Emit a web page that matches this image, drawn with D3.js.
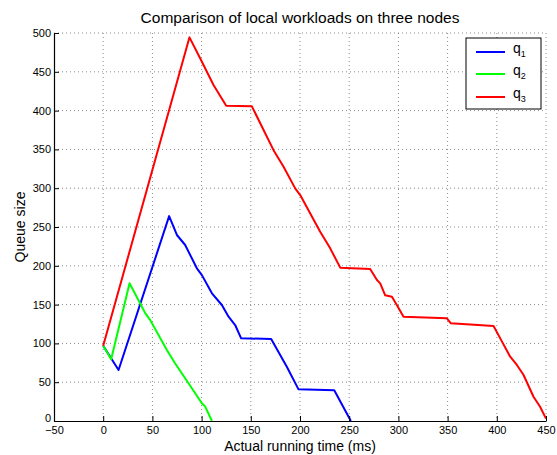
<!DOCTYPE html>
<html>
<head>
<meta charset="utf-8">
<script src="https://cdn.jsdelivr.net/npm/d3@7"></script>
<style>
  body { margin: 0; background: #fff; }
  svg { display: block; font-family: "Liberation Sans", Arial, Helvetica, sans-serif; }
</style>
</head>
<body>
<svg id="chart" width="557" height="455"></svg>
<script>
// ---- data ----
const xTicks = [-50, 0, 50, 100, 150, 200, 250, 300, 350, 400, 450];
const yTicks = [0, 50, 100, 150, 200, 250, 300, 350, 400, 450, 500];
const seriesNames = ["q1", "q2", "q3"];
const seriesColors = ["#0000ff", "#00ff00", "#ff0000"];

const q1 = [
  [0, 97], [15.6, 65.7], [67, 264], [74.9, 239.7], [83.3, 226.8], [95.2, 196.8],
  [100.3, 188], [110.5, 164.5], [120.6, 149.5], [127.4, 134.4], [134.1, 123.7],
  [140.2, 106.5], [170.7, 105.7], [186.6, 70], [198.5, 40.8], [234.8, 39.5], [251.7, 0]
];
const q2 = [
  [0, 97], [8.1, 79.5], [26.8, 177.4], [42.7, 139], [47.8, 130], [64.7, 91.5],
  [73, 74.5], [86.7, 48.6], [100.3, 22.8], [103.7, 18.5], [110.5, 0]
];
const q3 = [
  [0, 97], [87.7, 494.4], [100.3, 463], [112.1, 433], [125, 406.3], [151.1, 405.5],
  [173.1, 349], [183.3, 327.7], [195.1, 299.8], [200.2, 291.2], [220.5, 244],
  [230.7, 222.5], [240.9, 197.6], [271.3, 195.9], [278.2, 181.7], [281.5, 177.4],
  [286.6, 162], [293.4, 160], [298.4, 149.5], [305.2, 134.4], [349.3, 132.3],
  [353.3, 125.9], [396.7, 122.4], [403.5, 106.5], [413.6, 82.9], [420.4, 72.2],
  [427.2, 59.3], [437.3, 31.3], [444, 18.4], [450, 3]
];
const allSeries = [q1, q2, q3];

// ---- layout ----
const svg = d3.select("#chart");
const mLeft = 54, mRight = 546, mTop = 33, mBottom = 421;

const x = d3.scaleLinear().domain([-50, 450]).range([mLeft, mRight]);
const y = d3.scaleLinear().domain([0, 500]).range([mBottom, mTop]);

// grid
const grid = svg.append("g");
grid.selectAll("line.vx").data(xTicks.slice(1)).join("line")
  .attr("x1", d => x(d)).attr("x2", d => x(d))
  .attr("y1", mTop).attr("y2", mBottom)
  .attr("stroke", "#8a8a8a").attr("stroke-width", 1).attr("stroke-dasharray", "1,3");
grid.selectAll("line.hy").data(yTicks.slice(1)).join("line")
  .attr("x1", mLeft).attr("x2", mRight)
  .attr("y1", d => y(d)).attr("y2", d => y(d))
  .attr("stroke", "#8a8a8a").attr("stroke-width", 1).attr("stroke-dasharray", "1,3");

// lines
const line = d3.line().x(d => x(d[0])).y(d => y(d[1]));
svg.append("g").selectAll("path").data(allSeries).join("path")
  .attr("d", line)
  .attr("fill", "none")
  .attr("stroke", (d, i) => seriesColors[i])
  .attr("stroke-width", 2)
  .attr("stroke-linejoin", "round");

// axes
const xAxis = d3.axisBottom(x).tickValues(xTicks).tickSizeInner(-5).tickSizeOuter(0).tickPadding(3);
const yAxis = d3.axisLeft(y).tickValues(yTicks).tickSizeInner(-5).tickSizeOuter(0).tickPadding(3);

const gx = svg.append("g").attr("transform", `translate(0,${mBottom})`).call(xAxis);
const gy = svg.append("g").attr("transform", `translate(${mLeft},0)`).call(yAxis);
[gx, gy].forEach(g => {
  g.select(".domain").attr("stroke", "#000").attr("stroke-width", 1.2);
  g.selectAll(".tick line").attr("stroke", "#000");
  g.selectAll(".tick text").attr("font-size", 11).attr("fill", "#000")
    .attr("font-family", "Liberation Sans, Arial, sans-serif");
});
gx.selectAll(".tick text").attr("dy", "0.75em").attr("y", 5);
gy.selectAll(".tick text").filter(d => d === 0).attr("dy", "0.05em");

// title & labels
svg.append("text").attr("x", 300).attr("y", 23).attr("text-anchor", "middle")
  .attr("font-size", 15.5).attr("fill", "#000").text("Comparison of local workloads on three nodes");
svg.append("text").attr("x", 300).attr("y", 451).attr("text-anchor", "middle")
  .attr("font-size", 14).attr("fill", "#000").text("Actual running time (ms)");
svg.append("text").attr("transform", `translate(25,${(mTop + mBottom) / 2}) rotate(-90)`)
  .attr("text-anchor", "middle").attr("font-size", 14).attr("fill", "#000").text("Queue size");

// legend
const lg = svg.append("g");
lg.append("rect").attr("x", 466).attr("y", 38).attr("width", 75).attr("height", 71)
  .attr("fill", "#fff").attr("stroke", "#000").attr("stroke-width", 1);
const rowsY = [52, 74, 97];
seriesNames.forEach((name, i) => {
  lg.append("line").attr("x1", 476).attr("x2", 505).attr("y1", rowsY[i]).attr("y2", rowsY[i])
    .attr("stroke", seriesColors[i]).attr("stroke-width", 2);
  const t = lg.append("text").attr("x", 513).attr("y", rowsY[i] + 1).attr("font-size", 14).attr("fill", "#000");
  t.append("tspan").text(name[0]);
  t.append("tspan").attr("dy", 4).attr("font-size", 9).text(name.slice(1));
});
</script>
</body>
</html>
